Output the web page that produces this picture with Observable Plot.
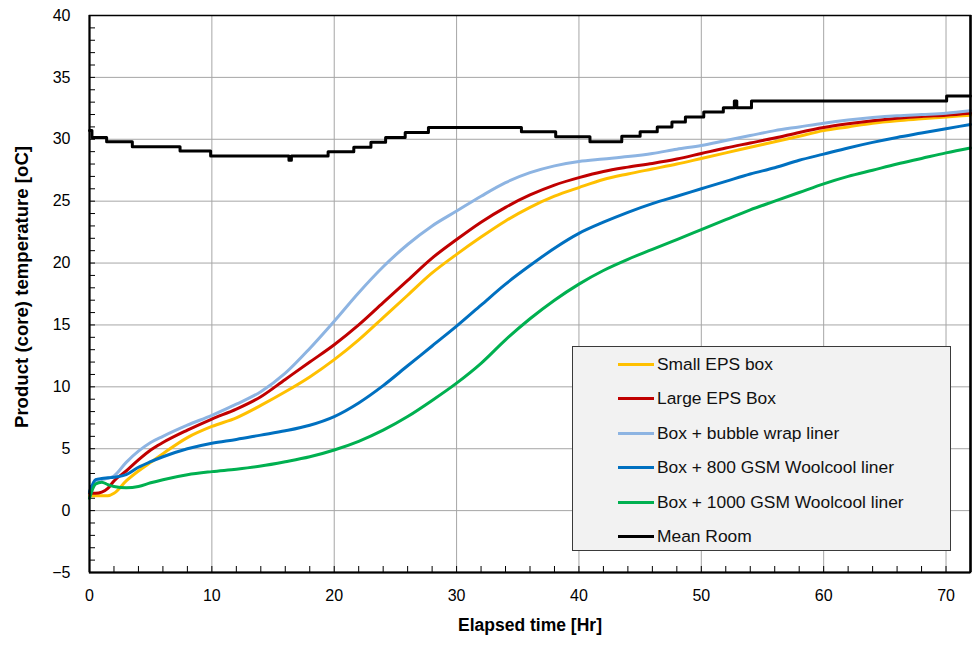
<!DOCTYPE html>
<html>
<head>
<meta charset="utf-8">
<script src="https://cdn.jsdelivr.net/npm/d3@7"></script>
<script src="https://cdn.jsdelivr.net/npm/@observablehq/plot@0.6"></script>
<style>
  html, body { margin: 0; padding: 0; background: #fff; }
  body { font-family: "Liberation Sans", Arial, sans-serif; }
  #wrap { position: relative; width: 972px; height: 646px; }
  .legend { position: absolute; left: 572px; top: 346px; width: 379px; height: 205px;
            background: #f2f2f2; border: 1px solid #3a3a3a; box-sizing: border-box; }
  .row { position: absolute; left: 0; height: 20px; }
  .sw { position: absolute; left: 45px; width: 36px; height: 3px; }
  .lbl { position: absolute; left: 84px; font-size: 17.4px; color: #111; white-space: nowrap; line-height: 20px; top: 0; }
</style>
</head>
<body>
<div id="wrap"></div>
<script>
// ---- data ----
const xLabel = "Elapsed time [Hr]";
const yLabel = "Product (core) temperature [oC]";
const xMajor = [0, 10, 20, 30, 40, 50, 60, 70];
const xMinor = d3.range(2, 72, 2);
const yMajor = [-5, 0, 5, 10, 15, 20, 25, 30, 35, 40];
const yMinor = d3.range(-4, 40, 1);

const times = [0, 0.5, 1, 1.5, 2, 3, 4, 5, 6, 8, 10, 12, 14, 16, 18, 20, 22, 24, 26, 28, 30,
               32, 34, 36, 38, 40, 42, 44, 46, 48, 50, 52, 54, 56, 58, 60, 62, 64, 66, 68, 70, 72];

const smallEPS = [1.2, 1.2, 1.2, 1.2, 1.4, 2.4, 3.2, 3.9, 4.6, 5.9, 6.8, 7.5, 8.5, 9.6, 10.8, 12.2, 13.8, 15.6, 17.4, 19.2, 20.7,
                  22.1, 23.4, 24.5, 25.4, 26.1, 26.75, 27.2, 27.6, 28.0, 28.45, 28.9, 29.35, 29.8, 30.25, 30.7, 31.0, 31.3, 31.5, 31.65, 31.8, 31.95];
const largeEPS = [1.4, 1.4, 1.5, 1.8, 2.4, 3.2, 4.1, 4.9, 5.5, 6.5, 7.4, 8.2, 9.2, 10.6, 12.0, 13.4, 15.0, 16.8, 18.6, 20.4, 21.9,
                  23.3, 24.5, 25.5, 26.3, 26.9, 27.4, 27.75, 28.05, 28.4, 28.85, 29.3, 29.7, 30.1, 30.55, 30.95, 31.25, 31.5, 31.7, 31.85, 31.95, 32.1];
const bubbleWrap = [1.6, 2.3, 2.5, 2.6, 2.8, 3.9, 4.8, 5.5, 6.0, 6.9, 7.7, 8.6, 9.6, 11.1, 13.1, 15.3, 17.6, 19.7, 21.5, 23.0, 24.2,
                    25.4, 26.5, 27.3, 27.85, 28.2, 28.4, 28.6, 28.85, 29.2, 29.5, 29.9, 30.3, 30.7, 31.0, 31.3, 31.55, 31.75, 31.9, 32.0, 32.1, 32.3];
const wool800 = [1.5, 2.5, 2.6, 2.65, 2.7, 2.9, 3.5, 3.95, 4.35, 5.0, 5.45, 5.75, 6.1, 6.45, 6.9, 7.6, 8.7, 10.1, 11.7, 13.3, 14.9,
                 16.6, 18.3, 19.8, 21.2, 22.4, 23.3, 24.1, 24.8, 25.4, 26.0, 26.6, 27.2, 27.7, 28.3, 28.8, 29.3, 29.75, 30.15, 30.5, 30.85, 31.2];
const wool1000 = [1.0, 2.15, 2.3, 2.1, 1.95, 1.85, 1.95, 2.25, 2.5, 2.9, 3.15, 3.35, 3.6, 3.95, 4.35, 4.9, 5.6, 6.5, 7.6, 8.9, 10.3,
                  11.9, 13.8, 15.5, 17.0, 18.3, 19.4, 20.3, 21.1, 21.9, 22.7, 23.5, 24.3, 25.0, 25.7, 26.4, 27.0, 27.5, 28.0, 28.45, 28.9, 29.3];

const roomT = [0, 0.2, 1.4, 3.5, 7.4, 9.9, 16.3, 16.5, 19.5, 21.6, 23.0, 24.2, 25.8, 27.7, 35.3, 38.1, 40.9, 43.5,
               45.0, 46.4, 47.6, 48.7, 50.2, 51.8, 52.7, 52.9, 54.1, 70.05, 72];
const roomV = [30.7, 30.15, 29.8, 29.4, 29.05, 28.65, 28.3, 28.65, 29.0, 29.35, 29.75, 30.15, 30.55, 30.95, 30.6, 30.2, 29.8, 30.25,
               30.6, 31.0, 31.4, 31.8, 32.2, 32.55, 33.1, 32.55, 33.1, 33.5, 33.5];

const seriesNames = ["Small EPS box", "Large EPS Box", "Box + bubble wrap liner", "Box + 800 GSM Woolcool liner", "Box + 1000 GSM Woolcool liner", "Mean Room"];
const seriesColors = ["#FFC000", "#C00000", "#8DB4E2", "#0070C0", "#00B050", "#000000"];
const seriesValues = [smallEPS, largeEPS, bubbleWrap, wool800, wool1000];

// ---- build tables ----
const curves = seriesValues.map((vals, i) => ({
  name: seriesNames[i], color: seriesColors[i],
  rows: times.map((t, j) => ({t, v: vals[j]}))
}));
const roomRows = roomT.map((t, i) => ({t, v: roomV[i]}));

// ---- layout ----
const W = 972, H = 646, mL = 89, mR = 2, mT = 15, mB = 74;
const innerW = W - mL - mR, innerH = H - mT - mB;
const tickLen = 6;

const font = "'Liberation Sans', Arial, sans-serif";
const chart = Plot.plot({
  width: W, height: H,
  marginLeft: mL, marginRight: mR, marginTop: mT, marginBottom: mB,
  style: {fontFamily: font, fontSize: "16px", color: "#000", background: "#fff"},
  x: {domain: [0, 72], label: null},
  y: {domain: [-5, 40], label: null},
  marks: [
    Plot.gridX(xMajor.filter(d => d > 0), {stroke: "#a6a6a6", strokeOpacity: 1, strokeWidth: 1}),
    Plot.gridY(yMajor, {stroke: "#a6a6a6", strokeOpacity: 1, strokeWidth: 1}),
    // inward minor ticks along the bottom and left axes
    Plot.ruleX(xMinor, {insetTop: innerH - tickLen, stroke: "#000", strokeWidth: 1}),
    Plot.ruleY(yMinor, {insetRight: innerW - tickLen, stroke: "#000", strokeWidth: 1}),
    Plot.axisX(xMajor, {tickSize: 0, tickPadding: 17, fontSize: 16, label: null}),
    Plot.axisY(yMajor, {tickSize: 0, tickPadding: 19, fontSize: 16, label: null}),
    ...curves.map(c => Plot.line(c.rows, {x: "t", y: "v", stroke: c.color, strokeWidth: 3, curve: "monotone-x"})),
    Plot.line(roomRows, {x: "t", y: "v", stroke: seriesColors[5], strokeWidth: 3, curve: "step-after"}),
    Plot.frame({stroke: "#000", strokeWidth: 1.5}),
    Plot.ruleX([0], {stroke: "#000", strokeWidth: 2}),
    Plot.ruleY([-5], {stroke: "#000", strokeWidth: 2}),
    Plot.ruleX([72], {stroke: "#000", strokeWidth: 2.5}),
    Plot.text([yLabel], {frameAnchor: "left", textAnchor: "middle", dx: -67, dy: -7, rotate: -90, fontWeight: "bold", fontSize: 18.6, fill: "#000"}),
    Plot.text([xLabel], {frameAnchor: "bottom", textAnchor: "middle", dy: 58, fontWeight: "bold", fontSize: 17.5, fill: "#000"})
  ]
});

const wrap = document.getElementById("wrap");
wrap.appendChild(chart);

// legend box
const legend = document.createElement("div");
legend.className = "legend";
seriesNames.forEach((name, i) => {
  const row = document.createElement("div");
  row.className = "row";
  row.style.top = (7 + i * 34.4) + "px";
  row.style.width = "100%";
  const sw = document.createElement("div");
  sw.className = "sw";
  sw.style.background = seriesColors[i];
  sw.style.top = "9px";
  const lbl = document.createElement("div");
  lbl.className = "lbl";
  lbl.textContent = name;
  row.appendChild(sw);
  row.appendChild(lbl);
  legend.appendChild(row);
});
wrap.appendChild(legend);
</script>
</body>
</html>
